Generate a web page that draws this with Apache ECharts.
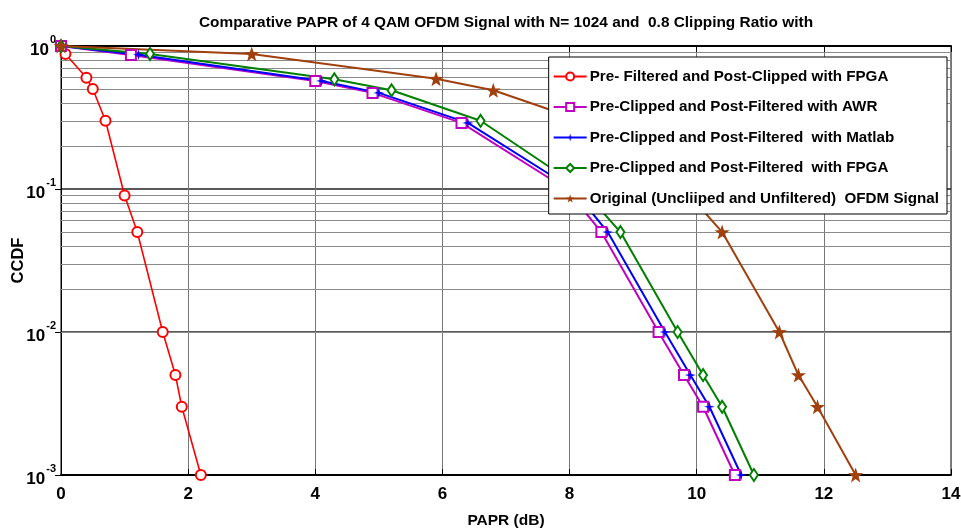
<!DOCTYPE html>
<html>
<head>
<meta charset="utf-8">
<script src="https://cdn.jsdelivr.net/npm/echarts@6/dist/echarts.min.js"></script>
<style>
html,body{margin:0;padding:0;background:#fff;}
#chart{width:961px;height:529px;}
</style>
</head>
<body>
<div id="chart"></div>
<script>
// ---- data ----
const titleText = 'Comparative PAPR of 4 QAM OFDM Signal with N= 1024 and  0.8 Clipping Ratio with';
const seriesNames = [
  'Pre- Filtered and Post-Clipped with FPGA',
  'Pre-Clipped and Post-Filtered with AWR',
  'Pre-Clipped and Post-Filtered  with Matlab',
  'Pre-Clipped and Post-Filtered  with FPGA',
  'Original (Uncliiped and Unfiltered)  OFDM Signal'
];
const redX  = [0, 0.07, 0.4, 0.5, 0.7, 1.0, 1.2, 1.6, 1.8, 1.9, 2.2];
const redY  = [1, 0.88, 0.6, 0.5, 0.3, 0.09, 0.05, 0.01, 0.005, 0.003, 0.001];
const awrX  = [0, 1.1, 4.0, 4.9, 6.3, 7.95, 8.5, 9.4, 9.8, 10.1, 10.6];
const awrY  = [1, 0.865, 0.57, 0.47, 0.29, 0.1, 0.05, 0.01, 0.005, 0.003, 0.001];
const matX  = [0, 1.22, 4.1, 5.0, 6.4, 8.05, 8.6, 9.5, 9.9, 10.2, 10.7];
const matY  = [1, 0.87, 0.57, 0.47, 0.29, 0.1, 0.05, 0.01, 0.005, 0.003, 0.001];
const fpgaX = [0, 1.4, 4.3, 5.2, 6.6, 8.2, 8.8, 9.7, 10.1, 10.4, 10.9];
const fpgaY = [1, 0.88, 0.585, 0.49, 0.3, 0.1, 0.05, 0.01, 0.005, 0.003, 0.001];
const origX = [0, 3.0, 5.9, 6.8, 8.2, 9.8, 10.4, 11.3, 11.6, 11.9, 12.5];
const origY = [1, 0.88, 0.59, 0.49, 0.3, 0.1, 0.05, 0.01, 0.005, 0.003, 0.001];
const minorGrid = [0.002,0.003,0.004,0.005,0.006,0.007,0.008,0.009,
                   0.02,0.03,0.04,0.05,0.06,0.07,0.08,0.09,
                   0.2,0.3,0.4,0.5,0.6,0.7,0.8,0.9];

const FONT = '"Liberation Sans", Arial, sans-serif';
function pairs(xs, ys){ return xs.map((x,i)=>[x, ys[i]]); }

const chart = echarts.init(document.getElementById('chart'));
const colors = ['#ff0000', '#c000c0', '#0000ff', '#008000', '#a0400c'];
const symbols = ['emptyCircle', 'emptyRect', 'path://M0,-10 L2,-2 L10,0 L2,2 L0,10 L-2,2 L-10,0 L-2,-2 Z', 'emptyDiamond', 'path://M0,-10 L2.35,-3.24 L9.51,-3.09 L3.8,1.24 L5.88,8.09 L0,4 L-5.88,8.09 L-3.8,1.24 L-9.51,-3.09 L-2.35,-3.24 Z'];
const symbolSizes = [10, 10, [11,11], [8,12], [15,15]];
const xs = [redX, awrX, matX, fpgaX, origX];
const ys = [redY, awrY, matY, fpgaY, origY];

const series = [{
  type: 'line', name: '_grid', data: [], z: 1, silent: true,
  markLine: {
    silent: true, symbol: 'none', animation: false, z: 1,
    label: {show: false},
    lineStyle: {color: '#8a8a8a', width: 1, type: 'solid'},
    emphasis: {disabled: true},
    data: minorGrid.map(v => ({yAxis: v}))
  }
}];
seriesNames.forEach((n, i) => {
  series.push({
    type: 'line', name: n, data: pairs(xs[i], ys[i]), z: 3,
    symbol: symbols[i], symbolSize: symbolSizes[i], showAllSymbol: true,
    color: colors[i],
    lineStyle: {color: colors[i], width: i === 0 ? 1.6 : 2, type: 'solid'},
    itemStyle: {color: colors[i], borderWidth: 1.6},
    animation: false
  });
});

chart.setOption({
  animation: false,
  backgroundColor: '#fff',
  title: {
    text: titleText, left: 501, textAlign: 'center', top: 10,
    textStyle: {fontFamily: FONT, fontSize: 15.4, fontWeight: 'bold', color: '#000'}
  },
  legend: {
    data: seriesNames, orient: 'vertical', right: 14, top: 57, z: 20,
    backgroundColor: '#fff', borderColor: '#000', borderWidth: 1,
    padding: [11, 8, 7, 4], itemGap: 13.5, itemWidth: 33, itemHeight: 10,
    textStyle: {fontFamily: FONT, fontSize: 15.2, fontWeight: 'bold', color: '#000', lineHeight: 17, padding: [0,0,0,-2]}
  },
  grid: {left: 61, right: 10, top: 46, bottom: 54, show: true, borderColor: '#000', borderWidth: 1, outerBoundsMode: 'none', containLabel: false},
  xAxis: [{
    type: 'value', min: 0, max: 14, interval: 2,
    name: 'PAPR (dB)', nameLocation: 'middle', nameGap: 38,
    nameTextStyle: {fontFamily: FONT, fontSize: 15.5, fontWeight: 'bold', color: '#000'},
    axisLine: {show: true, lineStyle: {color: '#000', width: 2}},
    axisTick: {show: true, inside: true, length: 6, lineStyle: {color: '#000'}},
    axisLabel: {fontFamily: FONT, fontSize: 17, fontWeight: 'bold', color: '#000', margin: 11},
    splitLine: {show: true, lineStyle: {color: '#777', width: 1}}
  }, {
    type: 'value', min: 0, max: 14, interval: 2, position: 'top',
    axisLine: {show: true, lineStyle: {color: '#000', width: 2}},
    axisTick: {show: true, inside: true, length: 6, lineStyle: {color: '#000'}},
    axisLabel: {show: false}, splitLine: {show: false}
  }],
  yAxis: [{
    type: 'log', logBase: 10, min: 0.001, max: 1,
    name: 'CCDF', nameLocation: 'middle', nameGap: 34, nameRotate: 90, nameMoveOverlap: false,
    nameTextStyle: {fontFamily: FONT, fontSize: 16.5, fontWeight: 'bold', color: '#000'},
    axisLine: {show: true, lineStyle: {color: '#000', width: 1}},
    axisTick: {show: false},
    axisLabel: {
      margin: 5,
      formatter: v => '{b|10}{s|' + Math.round(Math.log10(v)) + '}',
      rich: {
        b: {fontFamily: FONT, fontSize: 17, fontWeight: 'bold', color: '#000', verticalAlign: 'bottom', lineHeight: 24, padding: [0,0,-1,0]},
        s: {fontFamily: FONT, fontSize: 11, fontWeight: 'bold', color: '#000', verticalAlign: 'top', lineHeight: 24, padding: [0,0,15,1]}
      }
    },
    splitLine: {show: true, lineStyle: {color: '#222', width: 1.5}}
  }, {
    type: 'log', logBase: 10, min: 0.001, max: 1, position: 'right',
    axisLine: {show: true, lineStyle: {color: '#000', width: 1}},
    axisTick: {show: true, inside: true, length: 6, lineStyle: {color: '#000'}},
    axisLabel: {show: false}, splitLine: {show: false}
  }],
  series: series
});
</script>
</body>
</html>
